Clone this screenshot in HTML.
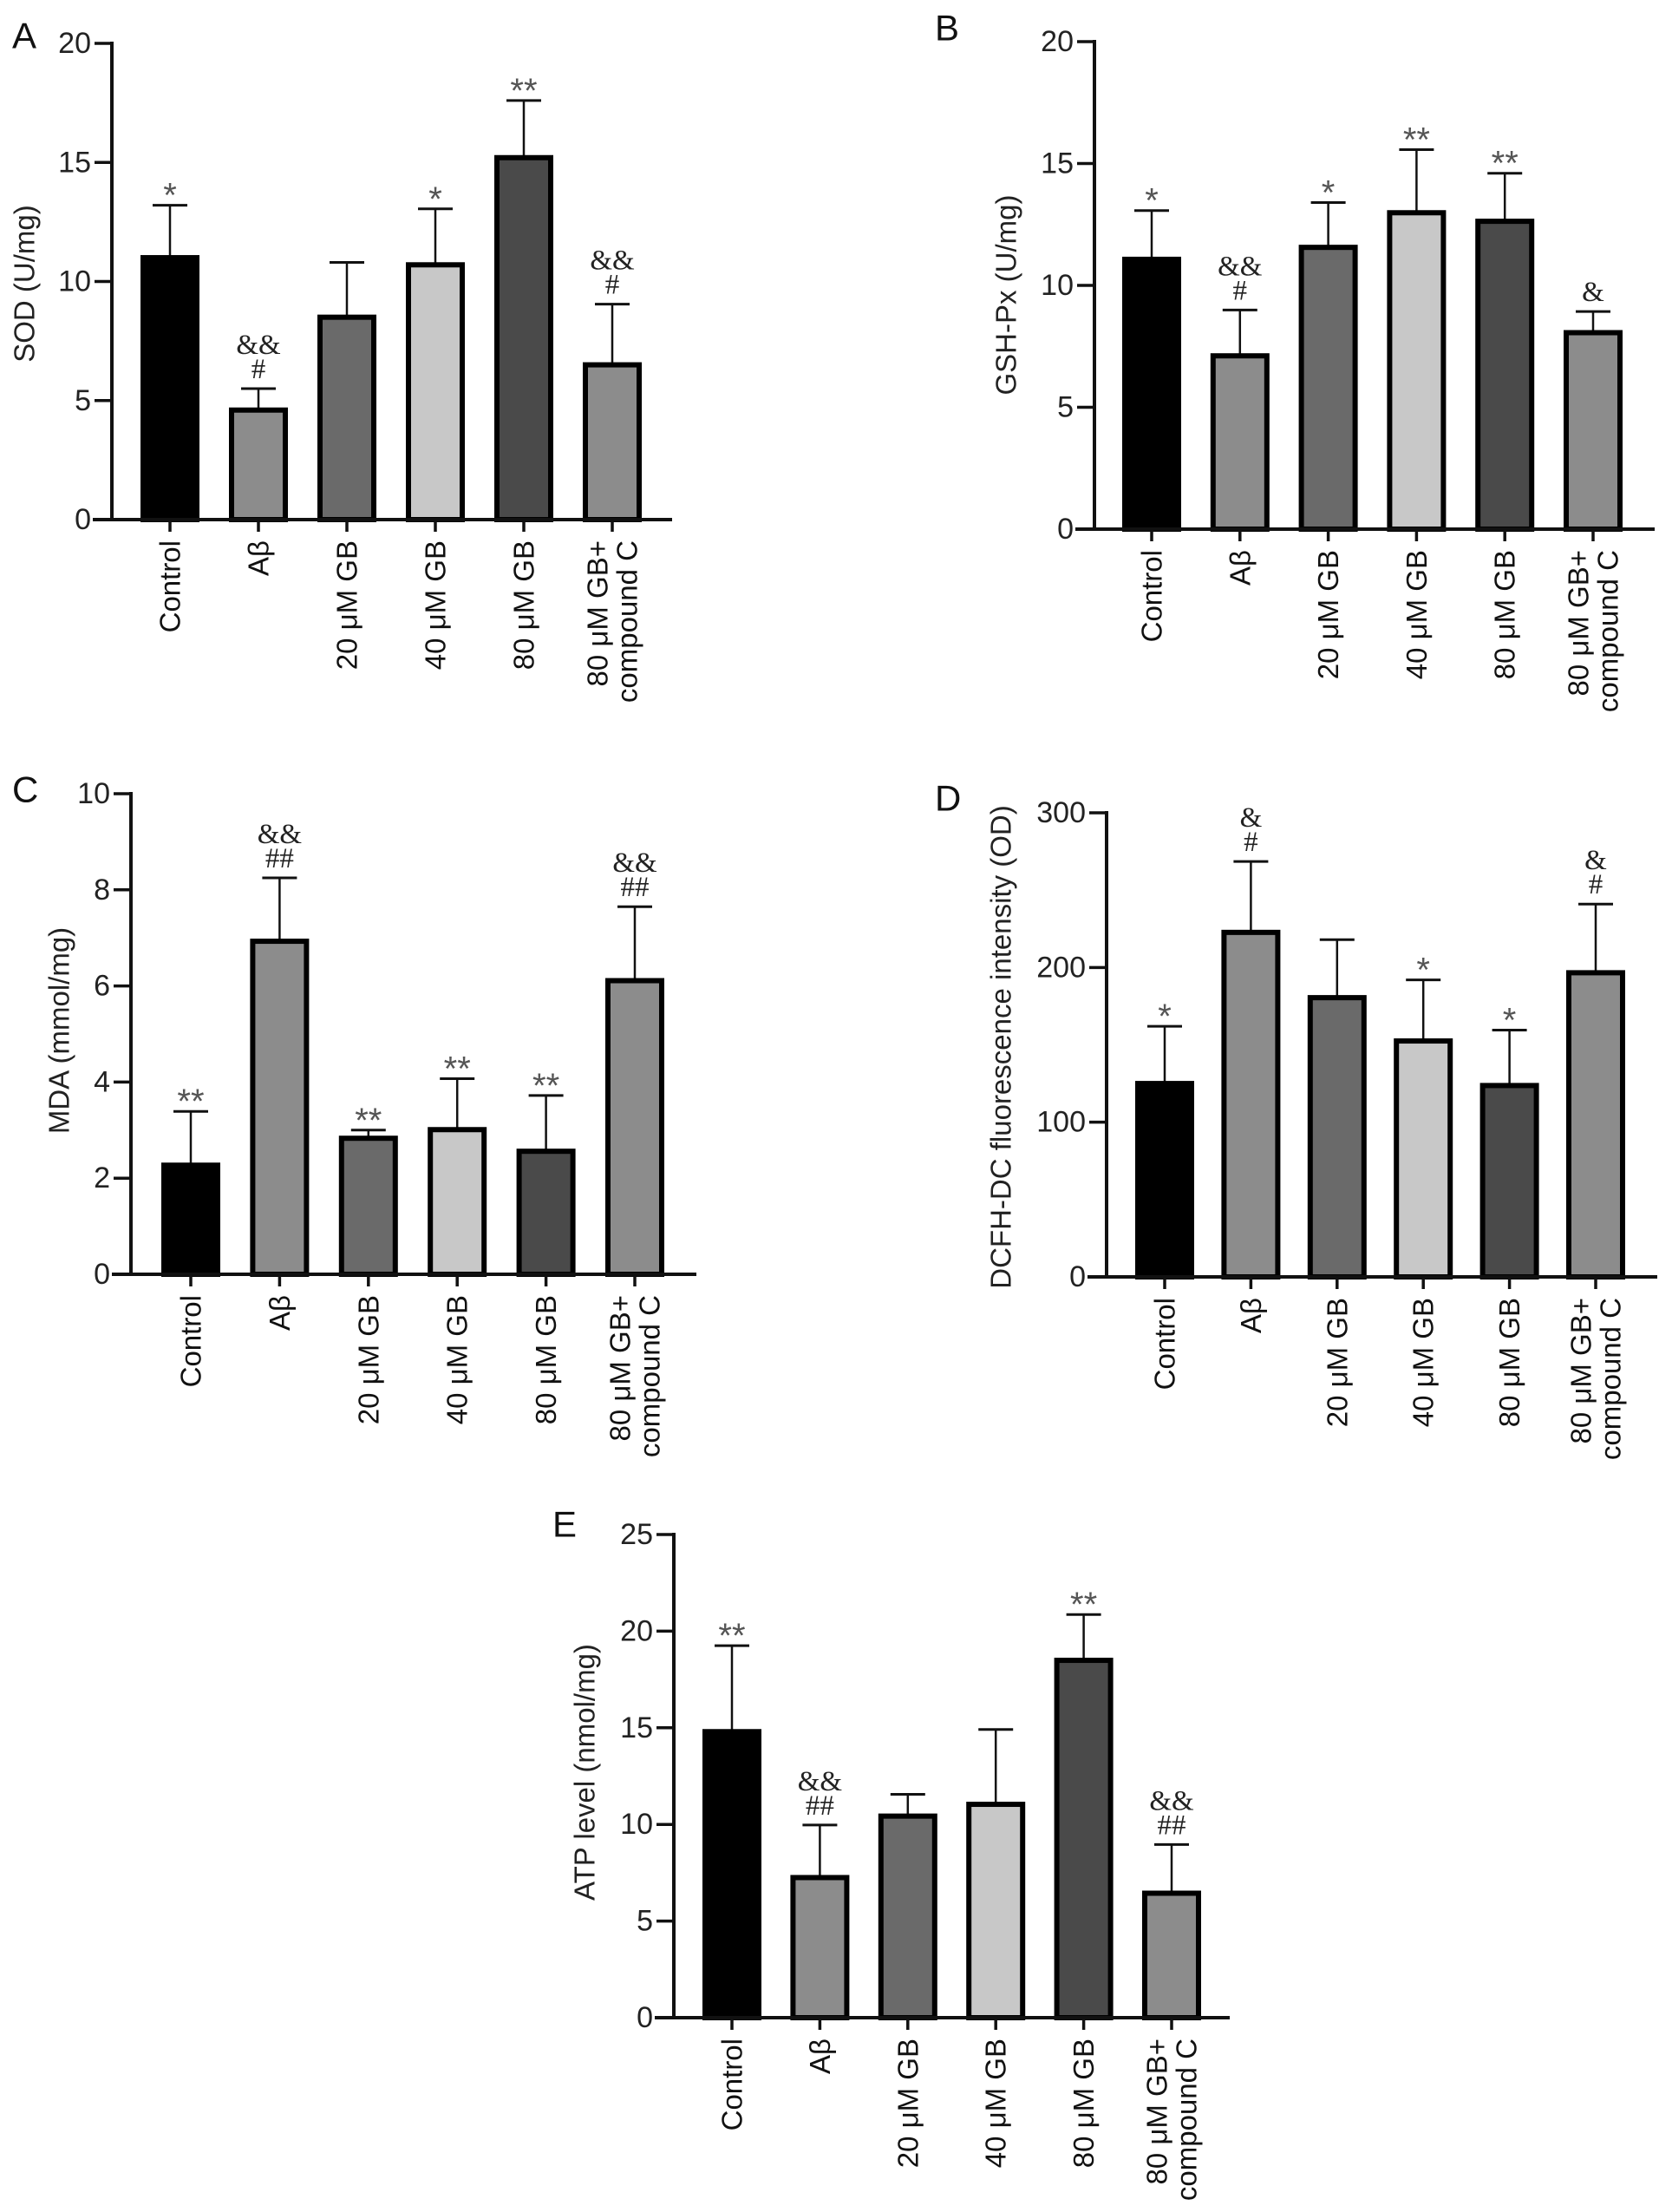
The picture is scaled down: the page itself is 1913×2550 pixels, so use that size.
<!DOCTYPE html>
<html><head><meta charset="utf-8"><style>
html,body{margin:0;padding:0;background:#fff;}
svg{display:block;font-family:"Liberation Sans",Arial,sans-serif;}
</style></head><body>
<svg id="fig" width="1913" height="2550" viewBox="0 0 1913 2550" xmlns="http://www.w3.org/2000/svg"></svg>
<script>
const categories = ["Control","Aβ","20 μM GB","40 μM GB","80 μM GB","80 μM GB+|compound C"];
const barColors = ["#000000","#8c8c8c","#6a6a6a","#c8c8c8","#4a4a4a","#8c8c8c"];

const sodValues = [11.0, 4.6, 8.5, 10.7, 15.2, 6.5];
const sodErrTop = [13.2, 5.5, 10.8, 13.05, 17.6, 9.05];
const sodMarks = [["*"],["&&","#"],[],["*"],["**"],["&&","#"]];
const sodTicks = [0,5,10,15,20];

const gshValues = [11.07, 7.11, 11.56, 12.98, 12.63, 8.06];
const gshErrTop = [13.07, 8.99, 13.4, 15.57, 14.6, 8.93];
const gshMarks = [["*"],["&&","#"],["*"],["**"],["**"],["&"]];
const gshTicks = [0,5,10,15,20];

const mdaValues = [2.27, 6.93, 2.83, 3.01, 2.56, 6.11];
const mdaErrTop = [3.39, 8.25, 3.0, 4.07, 3.72, 7.65];
const mdaMarks = [["**"],["&&","##"],["**"],["**"],["**"],["&&","##"]];
const mdaTicks = [0,2,4,6,8,10];

const dcfValues = [125, 222.7, 180.5, 152.5, 123.7, 196.6];
const dcfErrTop = [162, 268.5, 218, 192, 159.5, 241];
const dcfMarks = [["*"],["&","#"],[],["*"],["*"],["&","#"]];
const dcfTicks = [0,100,200,300];

const atpValues = [14.8, 7.25, 10.43, 11.04, 18.49, 6.44];
const atpErrTop = [19.25, 9.97, 11.56, 14.91, 20.86, 8.96];
const atpMarks = [["**"],["&&","##"],[],[],["**"],["&&","##"]];
const atpTicks = [0,5,10,15,20,25];

const NS = "http://www.w3.org/2000/svg";
const svg = document.getElementById("fig");
function mk(tag, attrs, parent){
  const e = document.createElementNS(NS, tag);
  for (const k in attrs) e.setAttribute(k, attrs[k]);
  (parent||svg).appendChild(e);
  return e;
}

function panel(p){
  const g = mk("g", {});
  
  
  const yScale = v => p.y0 - v / p.max * (p.y0 - p.yTop);
  const xScale = i => p.c0 + i * p.step;
  const L = mk("text", {x:p.lx, y:p.ly, "font-size":42, fill:"#111", "dominant-baseline":"central"}, g);
  L.textContent = p.letter;
  
  
  const yt = mk("text", {x:p.tx, y:p.ty, "font-size":33, fill:"#222", "text-anchor":"middle", "dominant-baseline":"central", transform:`rotate(-90 ${p.tx} ${p.ty})`}, g);
  yt.textContent = p.title;
  
  
  p.values.forEach((v,i)=>{
    const cx = xScale(i), w = 62;
    const top = yScale(v), et = yScale(p.err[i]);
    const eb = mk("line", {x1:cx, x2:cx, y1:top, y2:et, stroke:"#111", "stroke-width":2.5}, g);
    
    
    const cap = mk("line", {x1:cx-20, x2:cx+20, y1:et, y2:et, stroke:"#111", "stroke-width":3}, g);
    
    
    const r = mk("rect", {x:cx-w/2, y:top, width:w, height:p.y0-top, fill:barColors[i], stroke:"#000", "stroke-width":6}, g);
    
    
    const marks = p.marks[i];
    marks.slice().reverse().forEach((m,k)=>{
      const star = m.indexOf("*")>=0;
      const yy = star ? et - 12 : et - 22 - k*28;
      const t = mk("text", {x:cx, y: star ? yy + 14 : yy, "font-size": star?40:33, "text-anchor":"middle", fill: star?"#555":"#222", "dominant-baseline": star?"auto":"central", "font-family": star?'"Liberation Sans",sans-serif':'"Liberation Serif",serif'}, g);
      t.textContent = m;
      
      
    });
    const tk = mk("line", {x1:cx, x2:cx, y1:p.y0, y2:p.y0+14, stroke:"#111", "stroke-width":3.5}, g);
    
    
    const lines = categories[i].split("|");
    lines.forEach((ln,j)=>{
      const off = lines.length===1 ? 0 : (j===0 ? -17 : 17);
      const lx = cx + off, ly = p.y0 + 24;
      const t = mk("text", {x:lx, y:ly, "font-size":33, fill:"#111", "text-anchor":"end", "dominant-baseline":"central", transform:`rotate(-90 ${lx} ${ly})`}, g);
      t.textContent = ln;
      
      
    });
  });
  const ya = mk("line", {x1:p.ax, x2:p.ax, y1:p.yTop-2, y2:p.y0+2, stroke:"#111", "stroke-width":4}, g);
  
  
  const xa = mk("line", {x1:p.ax-22, x2:p.xEnd, y1:p.y0, y2:p.y0, stroke:"#111", "stroke-width":4}, g);
  
  
  p.ticks.forEach(tv=>{
    const y = yScale(tv);
    const l = mk("line", {x1:p.ax-20, x2:p.ax, y1:y, y2:y, stroke:"#111", "stroke-width":3.5}, g);
    
    
    const t = mk("text", {x:p.ax-24, y:y, "font-size":34, fill:"#222", "text-anchor":"end", "dominant-baseline":"central"}, g);
    t.textContent = tv;
    
    
  });
}

panel({letter:"A", lx:14, ly:41, title:"SOD (U/mg)", tx:28, ty:327, ax:129, yTop:50, y0:599, max:20, c0:196, step:102, xEnd:775, values:sodValues, err:sodErrTop, marks:sodMarks, ticks:sodTicks});
panel({letter:"B", lx:1078, ly:32, title:"GSH-Px (U/mg)", tx:1160, ty:340, ax:1262, yTop:48, y0:610, max:20, c0:1328, step:101.8, xEnd:1908, values:gshValues, err:gshErrTop, marks:gshMarks, ticks:gshTicks});
panel({letter:"C", lx:14, ly:910, title:"MDA (mmol/mg)", tx:68, ty:1188, ax:151, yTop:915, y0:1469, max:10, c0:220, step:102.4, xEnd:803, values:mdaValues, err:mdaErrTop, marks:mdaMarks, ticks:mdaTicks});
panel({letter:"D", lx:1078, ly:920, title:"DCFH-DC fluorescence intensity (OD)", tx:1154, ty:1207, ax:1276, yTop:937, y0:1472, max:300, c0:1343, step:99.4, xEnd:1911, values:dcfValues, err:dcfErrTop, marks:dcfMarks, ticks:dcfTicks});
panel({letter:"E", lx:637, ly:1757, title:"ATP level (nmol/mg)", tx:674, ty:2043, ax:777, yTop:1769, y0:2326, max:25, c0:844, step:101.4, xEnd:1418, values:atpValues, err:atpErrTop, marks:atpMarks, ticks:atpTicks});
</script>
</body></html>
